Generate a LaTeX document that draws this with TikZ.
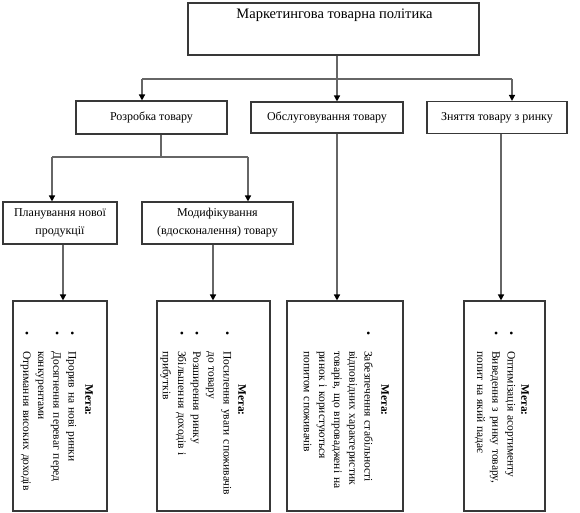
\documentclass[tikz,border=0pt]{standalone}
\usepackage{fontspec}
\setmainfont{Liberation Serif}
\usetikzlibrary{arrows.meta,calc}
\newenvironment{goallist}{\begin{list}{\textbullet}{%
  \setlength{\leftmargin}{20pt}\setlength{\labelwidth}{20pt}%
  \setlength{\labelsep}{0pt}\setlength{\itemsep}{0pt}%
  \setlength{\topsep}{0pt}\setlength{\parsep}{0pt}%
  \setlength{\partopsep}{0pt}\setlength{\itemindent}{0pt}%
  \setlength{\listparindent}{0pt}%
  \renewcommand{\makelabel}[1]{##1\hfil}}}{\end{list}}
\begin{document}
\begin{tikzpicture}[x=1pt,y=-1pt,
  box/.style={draw=black!78, line width=1.1pt, fill=white, inner sep=0pt},
  conn/.style={draw=black!60, line width=1.4pt},
  arr/.style={conn, -{Triangle[width=6pt,length=6pt,color=black]}},
  txt/.style={font=\fontsize{12}{18}\selectfont, align=center},
  goal/.style={rotate=-90, font=\fontsize{11.5}{15.2}\selectfont, text width=180pt, align=left, inner sep=0pt, anchor=north west},
  goalhead/.style={rotate=-90, font=\bfseries\fontsize{11.5}{13}\selectfont, inner sep=0pt}
]
\useasboundingbox (0,0) rectangle (580,513);

% boxes
\node[box, minimum width=291pt, minimum height=52pt] (T) at (333.5,29) {};
\node[font=\fontsize{14.5}{17}\selectfont] (Tt) at (334.5,15) {Маркетингова товарна політика};

\node[box, txt, minimum width=151pt, minimum height=33pt] (R) at (151.5,117.5) {Розробка товару};
\node[box, txt, minimum width=152pt, minimum height=31pt] (O) at (327,117.5) {Обслуговування товару};
\node[box, txt, minimum width=140pt, minimum height=32pt] (Z) at (497,117.5) {Зняття товару з ринку};

\node[box, txt, minimum width=114pt, minimum height=42pt] (P) at (60,223) {Планування нової\\продукції};
\node[box, txt, minimum width=151pt, minimum height=42pt] (M) at (217.5,223) {Модифікування\\(вдосконалення) товару};

\node[box, minimum width=94pt, minimum height=210pt] (B1) at (60,406) {};
\node[box, minimum width=113pt, minimum height=210pt] (B2) at (213.5,406) {};
\node[box, minimum width=116pt, minimum height=210pt] (B3) at (345,406) {};
\node[box, minimum width=81pt, minimum height=210pt] (B4) at (504.5,406) {};

% goal texts
\node[goalhead] (H1) at (89,400) {Мета:};
\node[goal] (G1) at (84,331) {\begin{goallist}
\item Прорив на нові ринки
\item Досягнення переваг перед\newline конкурентами
\item Отримання високих доходів
\end{goallist}};

\node[goalhead] (H2) at (242,400) {Мета:};
\node[goal] (G2) at (239,331) {\begin{goallist}
\item Посилення уваги споживачів\newline до товару
\item Розширення ринку
\item Збільшення доходів і\newline прибутків
\end{goallist}};

\node[goalhead] (H3) at (385,400) {Мета:};
\node[goal] (G3) at (380,331) {\begin{goallist}
\item Забезпечення стабільності\newline відповідних характеристик\newline товарів, що впроваджені на\newline ринок і користуються\newline попитом споживачів
\end{goallist}};

\node[goalhead] (H4) at (525,400) {Мета:};
\node[goal] (G4) at (523,331) {\begin{goallist}
\item Оптимізація асортименту
\item Виведення з ринку товару,\newline попит на який падає
\end{goallist}};

% connectors level 1
\coordinate (j0) at (337,79);
\coordinate (jR) at (142,79);
\coordinate (jZ) at (512,79);
\draw[conn] (jR) -- (jZ);
\draw[arr] (j0 |- T.south) -- (j0 |- O.north);
\draw[arr] (jR) -- (jR |- R.north);
\draw[arr] (jZ) -- (jZ |- Z.north);

% connectors level 2
\coordinate (k0) at (161,157);
\coordinate (kP) at (52,157);
\coordinate (kM) at (248,157);
\draw[conn] (k0 |- R.south) -- (k0);
\draw[conn] (kP) -- (kM);
\draw[arr] (kP) -- (kP |- P.north);
\draw[arr] (kM) -- (kM |- M.north);

% connectors level 3
\coordinate (m1) at (63,270);
\coordinate (m2) at (213,270);
\coordinate (m3) at (337,270);
\coordinate (m4) at (501,270);
\draw[arr] (m1 |- P.south) -- (m1 |- B1.north);
\draw[arr] (m2 |- M.south) -- (m2 |- B2.north);
\draw[arr] (m3 |- O.south) -- (m3 |- B3.north);
\draw[arr] (m4 |- Z.south) -- (m4 |- B4.north);
\end{tikzpicture}
\end{document}
